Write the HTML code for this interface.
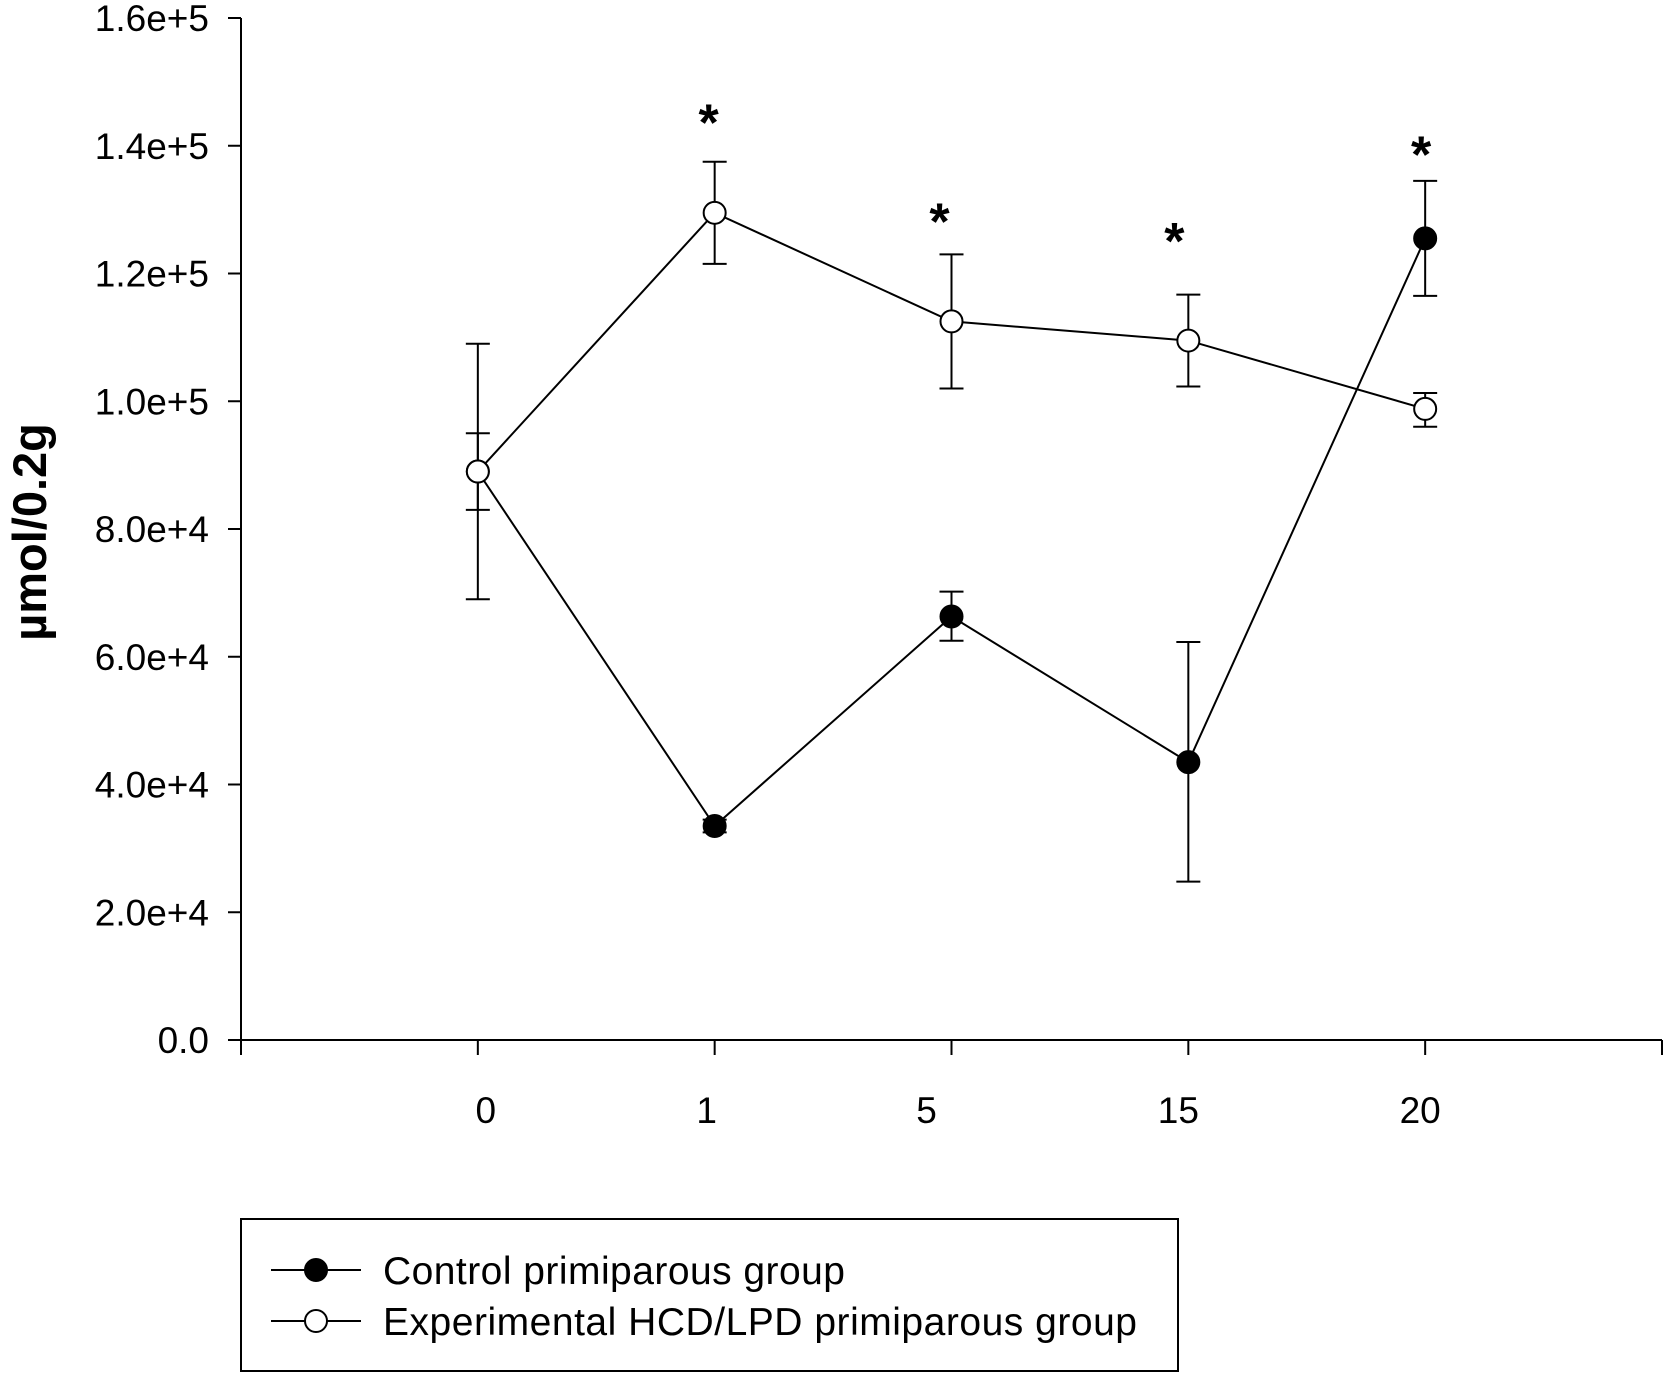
<!DOCTYPE html>
<html><head><meta charset="utf-8"><style>
html,body{margin:0;padding:0;background:#fff;}
svg{display:block;font-family:"Liberation Sans",Arial,sans-serif;}
</style></head><body>
<svg id="chart" width="1667" height="1377" viewBox="0 0 1667 1377" xmlns="http://www.w3.org/2000/svg">
<g id="axes"></g>
<g id="series"></g>
<text transform="translate(46,532) rotate(-90)" text-anchor="middle" font-size="47" font-weight="bold">µmol/0.2g</text>
<g>
<rect x="241" y="1219" width="937" height="152" fill="#fff" stroke="#000" stroke-width="2"/>
<g>
<line x1="271" y1="1270" x2="361" y2="1270" stroke="#000" stroke-width="2"/>
<circle cx="316" cy="1270" r="11" fill="#000" stroke="#000" stroke-width="2"/>
<text x="383" y="1284" font-size="39" textLength="462">Control primiparous group</text>
</g>
<g>
<line x1="271" y1="1321" x2="361" y2="1321" stroke="#000" stroke-width="2"/>
<circle cx="316" cy="1321" r="11" fill="#fff" stroke="#000" stroke-width="2"/>
<text x="383" y="1335" font-size="39" textLength="754">Experimental HCD/LPD primiparous group</text>
</g>
</g>
</svg>
<script>
const categories = ["0","1","5","15","20"];
const yTicks = [0,20000,40000,60000,80000,100000,120000,140000,160000];
const yTickLabels = ["0.0","2.0e+4","4.0e+4","6.0e+4","8.0e+4","1.0e+5","1.2e+5","1.4e+5","1.6e+5"];
const controlMean = [89000,33500,66300,43500,125500];
const controlUpper = [95000,34500,70200,62300,134500];
const controlLower = [83000,32500,62500,24800,116500];
const expMean = [89000,129500,112500,109500,98800];
const expUpper = [109000,137500,123000,116700,101300];
const expLower = [69000,121500,102000,102300,96000];
const sigValues = [null,145500,130000,127000,140500];

const NS="http://www.w3.org/2000/svg";
const x0=241,x1=1662,y0=1040,y1=18;
function xs(i){return x0+(i+1)*(x1-x0)/6;}
function ys(v){return y0-(v/160000)*(y0-y1);}
function mk(tag,attrs,parent){const e=document.createElementNS(NS,tag);for(const k in attrs)e.setAttribute(k,attrs[k]);parent.appendChild(e);return e;}
const axes=document.getElementById('axes'),ser=document.getElementById('series');
let l=mk('line',{x1:x0,y1:y0,x2:x0,y2:y1,stroke:'#000','stroke-width':2},axes);


l=mk('line',{x1:x0-13,y1:y0,x2:x1,y2:y0,stroke:'#000','stroke-width':2},axes);


yTicks.forEach((v,i)=>{
  const t=mk('line',{x1:x0-13,y1:ys(v),x2:x0,y2:ys(v),stroke:'#000','stroke-width':2},axes);
  
  
  const tx=mk('text',{x:x0-32,y:ys(v)+13,'text-anchor':'end','font-size':37},axes);
  tx.textContent=yTickLabels[i];
  
  
});
for(let i=-1;i<=5;i++){
  const t=mk('line',{x1:xs(i),y1:y0,x2:xs(i),y2:y0+15,stroke:'#000','stroke-width':2},axes);
  
  
}
categories.forEach((c,i)=>{
  const offs=[8,-8,-25,-10,-5];
  const tx=mk('text',{x:xs(i)+offs[i],y:y0+83,'text-anchor':'middle','font-size':37},axes);
  tx.textContent=c;
  
  
});
function drawSeries(mean,up,lo,fill,name){
  const g=mk('g',{},ser);
  
  
  const pts=mean.map((v,i)=>xs(i)+','+ys(v)).join(' ');
  const pl=mk('polyline',{points:pts,fill:'none',stroke:'#000','stroke-width':2},g);
  
  
  mean.forEach((v,i)=>{
    const x=xs(i);
    const eb=mk('path',{d:`M${x},${ys(up[i])}V${ys(lo[i])}M${x-12},${ys(up[i])}H${x+12}M${x-12},${ys(lo[i])}H${x+12}`,stroke:'#000','stroke-width':2,fill:'none'},g);
    
    
  });
  mean.forEach((v,i)=>{
    const c=mk('circle',{cx:xs(i),cy:ys(v),r:11,fill:fill,stroke:'#000','stroke-width':2},g);
    
    
  });
}
drawSeries(controlMean,controlUpper,controlLower,'#000','control-series');
drawSeries(expMean,expUpper,expLower,'#fff','experimental-series');
sigValues.forEach((v,i)=>{
  if(v===null)return;
  const offs=[0,-6,-12,-14,-4];
  const t=mk('text',{x:xs(i)+offs[i],y:ys(v)+30,'text-anchor':'middle','font-size':52,'font-weight':'bold'},ser);
  t.textContent='*';
  
  
});
</script>
</body></html>
